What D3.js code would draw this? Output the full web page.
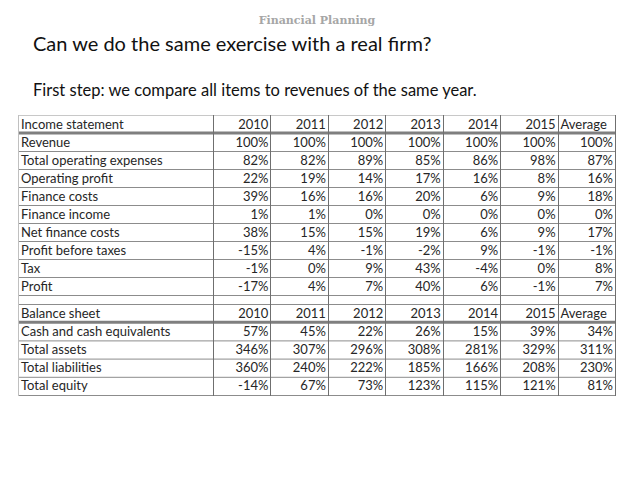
<!DOCTYPE html>
<html><head><meta charset="utf-8">
<script src="https://cdn.jsdelivr.net/npm/d3@7"></script>
<style>html,body{margin:0;padding:0;background:#fff;}</style>
</head><body>
<script>
const years = ["2010","2011","2012","2013","2014","2015","Average"];
const incomeItems = ["Revenue","Total operating expenses","Operating profit","Finance costs","Finance income","Net finance costs","Profit before taxes","Tax","Profit"];
const revenue = [100,100,100,100,100,100,100];
const totalOperatingExpenses = [82,82,89,85,86,98,87];
const operatingProfit = [22,19,14,17,16,8,16];
const financeCosts = [39,16,16,20,6,9,18];
const financeIncome = [1,1,0,0,0,0,0];
const netFinanceCosts = [38,15,15,19,6,9,17];
const profitBeforeTaxes = [-15,4,-1,-2,9,-1,-1];
const tax = [-1,0,9,43,-4,0,8];
const profit = [-17,4,7,40,6,-1,7];
const balanceItems = ["Cash and cash equivalents","Total assets","Total liabilities","Total equity"];
const cash = [57,45,22,26,15,39,34];
const totalAssets = [346,307,296,308,281,329,311];
const totalLiabilities = [360,240,222,185,166,208,230];
const totalEquity = [-14,67,73,123,115,121,81];

const incomeValues = [revenue,totalOperatingExpenses,operatingProfit,financeCosts,financeIncome,netFinanceCosts,profitBeforeTaxes,tax,profit];
const balanceValues = [cash,totalAssets,totalLiabilities,totalEquity];

const W=640,H=480;
const svg=d3.select("body").append("svg").attr("width",W).attr("height",H).style("font-family","Lato, 'Open Sans', sans-serif");

svg.append("text").attr("x",317).attr("y",24).attr("text-anchor","middle")
  .style("font-family","'DejaVu Serif', 'Liberation Serif', serif").style("font-weight","bold")
  .style("font-size","11px").attr("fill","#a6a6a6").text("Financial Planning");
svg.append("text").attr("x",33).attr("y",51).style("font-size","20px").attr("fill","#111")
  .text("Can we do the same exercise with a real firm?");
svg.append("text").attr("x",33).attr("y",96).style("font-size","16.5px").attr("fill","#111")
  .text("First step: we compare all items to revenues of the same year.");

const tableLeft=18, labelRight=213, tableRight=615;
const x=d3.scaleBand().domain(years).range([labelRight,tableRight]);
const txt="#262626";

function drawSection(title, items, values, y0, y1){
  const rows=[title].concat(items);
  const y=d3.scaleBand().domain(d3.range(rows.length)).range([y0,y1]);
  const g=svg.append("g");
  rows.forEach((r,i)=>{
    const yy=y(i)+y.bandwidth();
    if(i===0){
      g.append("line").attr("x1",tableLeft).attr("x2",tableRight).attr("y1",yy).attr("y2",yy)
        .attr("stroke","#7f7f7f").attr("stroke-width",3);
    } else {
      g.append("line").attr("x1",tableLeft).attr("x2",tableRight).attr("y1",yy+0.5).attr("y2",yy+0.5)
        .attr("stroke","#8c8c8c").attr("stroke-width",1);
    }
  });
  g.selectAll("text.lab").data(rows).join("text").attr("class","lab")
    .attr("x",tableLeft+3).attr("y",(d,i)=>y(i)+y.bandwidth()/2+4.5)
    .style("font-size","13px").attr("fill",txt).text(d=>d);
  g.selectAll("text.yr").data(years).join("text").attr("class","yr")
    .attr("x",d=>d==="Average"? x(d)+3 : x(d)+x.bandwidth()-2)
    .attr("text-anchor",d=>d==="Average"?"start":"end")
    .attr("y",y(0)+y.bandwidth()/2+4.5).style("font-size","13px").attr("fill",txt).text(d=>d);
  values.forEach((vals,ri)=>{
    g.selectAll(null).data(vals).join("text")
      .attr("x",(d,ci)=>x(years[ci])+x.bandwidth()-2).attr("text-anchor","end")
      .attr("y",y(ri+1)+y.bandwidth()/2+4.5).style("font-size","13px").attr("fill",txt)
      .text(d=>d+"%");
  });
  return y;
}

const tTop=115, incBottom=295, balTop=304, balBottom=395;
svg.append("line").attr("x1",tableLeft).attr("x2",tableRight).attr("y1",tTop+0.5).attr("y2",tTop+0.5).attr("stroke","#c8c8c8");
drawSection("Income statement", incomeItems, incomeValues, tTop, incBottom);
svg.append("line").attr("x1",tableLeft).attr("x2",tableRight).attr("y1",balTop+0.5).attr("y2",balTop+0.5).attr("stroke","#8c8c8c");
drawSection("Balance sheet", balanceItems, balanceValues, balTop, balBottom);

const vx=[labelRight].concat(years.map(d=>x(d)+x.bandwidth()));
svg.append("line").attr("x1",tableLeft+0.5).attr("x2",tableLeft+0.5).attr("y1",tTop).attr("y2",balBottom+1).attr("stroke","#c0c0c0");
svg.selectAll("line.v").data(vx).join("line").attr("class","v")
  .attr("x1",d=>Math.round(d)+0.5).attr("x2",d=>Math.round(d)+0.5).attr("y1",tTop).attr("y2",balBottom+1)
  .attr("stroke","#6f6f6f").attr("stroke-width",1);
</script>
</body></html>
